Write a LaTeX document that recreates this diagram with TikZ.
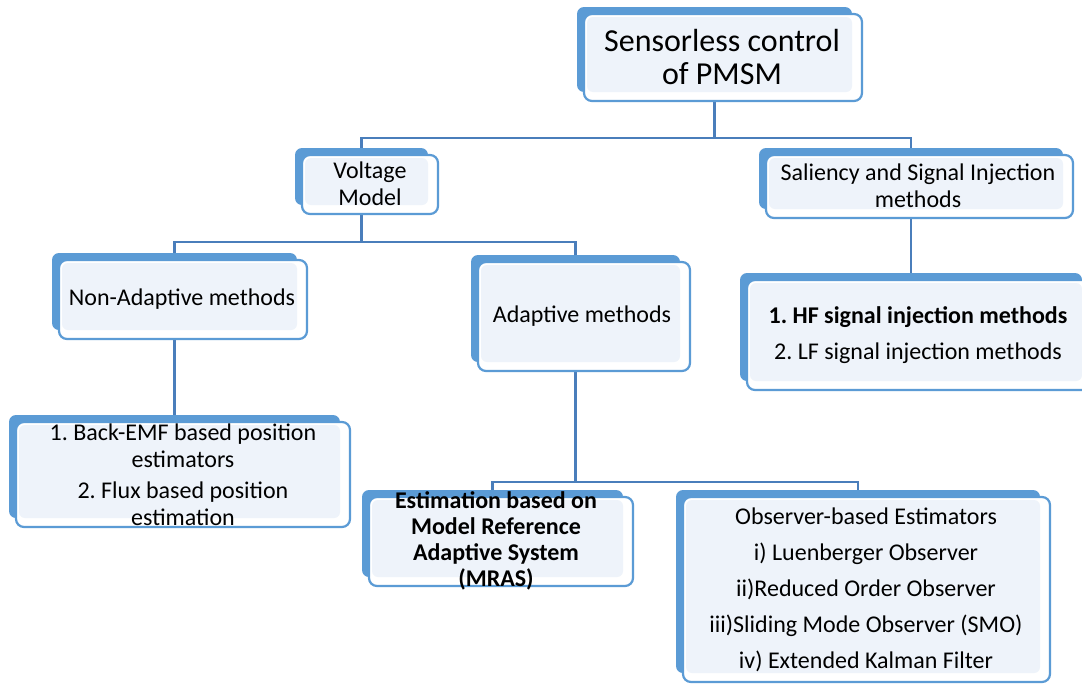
\documentclass[tikz,border=0pt]{standalone}
\usepackage{fontspec}
\setmainfont{Carlito}
\usetikzlibrary{backgrounds}
\frenchspacing
\definecolor{accent}{RGB}{91,155,213}
\definecolor{conncol}{RGB}{74,126,187}
\definecolor{lightfill}{RGB}{238,243,250}
\tikzset{
  backbox/.style={fill=accent, rounded corners=7pt, inner sep=0pt, outer sep=0pt},
  frontbox/.style={draw=accent, line width=2.2pt, fill=white, rounded corners=8pt},
  innerfill/.style={fill=lightfill, rounded corners=6pt},
  conn/.style={draw=conncol, line width=2.2pt},
  txt/.style={font=\fontsize{24}{27}\selectfont, align=center, inner sep=0pt},
}
% #1 name, #2 x1, #3 y1, #4 x2, #5 y2 of the back box
\newcommand\layeredbox[5]{%
  \node[backbox, minimum width={#4-#2}, minimum height={#5-#3}] (#1-b) at ({(#2+#4)/2},{(#3+#5)/2}) {};
  \draw[frontbox] (#2+7,#3+7) rectangle (#4+10,#5+9);
  \fill[innerfill] (#2+10,#3+10) rectangle (#4,#5);
}
\begin{document}
\begin{tikzpicture}[x=1pt,y=-1pt]
\clip (0,0) rectangle (1082,683);

\layeredbox{top}{577}{7}{852}{92}
\layeredbox{volt}{295}{148}{428}{205}
\layeredbox{sal}{759}{148}{1063}{209}
\layeredbox{nonad}{52}{253}{297}{330}
\layeredbox{adapt}{471}{255}{680}{362}
\layeredbox{hf}{740}{273}{1082}{381}
\layeredbox{bemf}{9}{415}{340}{518}
\layeredbox{mras}{362}{490}{623}{577}
\layeredbox{obs}{676}{490}{1040}{673}

\node[txt, font=\fontsize{32}{33}\selectfont] (top-t) at (722,57) {Sensorless control\\of PMSM};
\node[txt] (volt-t) at (370,184) {Voltage\\Model};
\node[txt] (sal-t) at (918,186) {Saliency and Signal Injection\\methods};
\node[txt] (nonad-t) at (182,299) {Non-Adaptive methods};
\node[txt] (adapt-t) at (582,316) {Adaptive methods};
\node[txt] (hf-t) at (918,335) {\textbf{1. HF signal injection methods}\\[9pt]2. LF signal injection methods};
\node[txt] (bemf-t) at (183,475) {1. Back-EMF based position\\estimators\\[4pt]2. Flux based position\\estimation};
\node[txt, font=\bfseries\fontsize{24}{26}\selectfont] (mras-t) at (496,541) {Estimation based on\\Model Reference\\Adaptive System\\(MRAS)};
\node[txt] (obs-t) at (866,590) {Observer-based Estimators\\[9pt]i) Luenberger Observer\\[9pt]ii)Reduced Order Observer\\[9pt]iii)Sliding Mode Observer (SMO)\\[9pt]iv) Extended Kalman Filter};

\begin{scope}[on background layer]
\fill[white] (0,0) rectangle (1082,683);
\draw[conn] (top-b.south) -- ++(0,46) -| (volt-b.north);
\draw[conn] (top-b.south) -- ++(0,46) -| (sal-b.north);
\draw[conn] (volt-b.south) -- ++(0,37) -| (nonad-b.north);
\draw[conn] (volt-b.south) -- ++(0,37) -| (adapt-b.north);
\draw[conn] (sal-b.south) -- (sal-b.south |- hf-b.north);
\draw[conn] (nonad-b.south) -- (nonad-b.south |- bemf-b.north);
\draw[conn] (adapt-b.south) -- ++(0,120) -| (mras-b.north);
\draw[conn] (adapt-b.south) -- ++(0,120) -| (obs-b.north);
\end{scope}
\end{tikzpicture}
\end{document}
